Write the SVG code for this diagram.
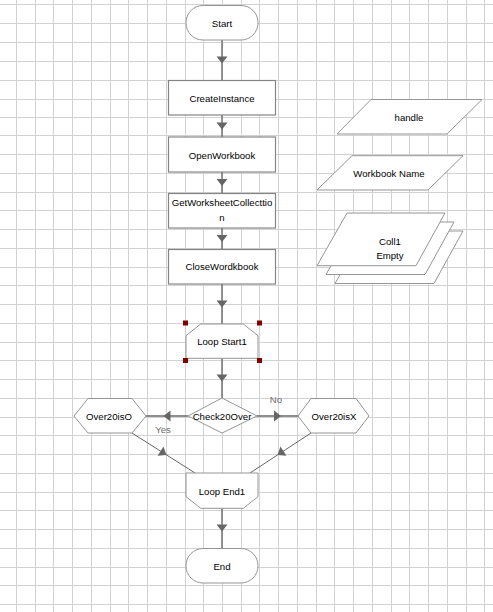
<svg xmlns="http://www.w3.org/2000/svg" width="493" height="612" viewBox="0 0 493 612">
<style>
.grid{stroke:#d2d2d2;stroke-width:1;fill:none}
.shape{fill:#fff;stroke:#959595;stroke-width:1}
.box{fill:#fff;stroke:#858585;stroke-width:1.2}
.lbl{font-family:"Liberation Sans",Arial,sans-serif;font-size:9.6px;fill:#000;text-anchor:middle}
.edge{font-family:"Liberation Sans",Arial,sans-serif;font-size:9.6px;fill:#6e6e6e;text-anchor:middle}
.conn{fill:none;stroke:#6a6a6a;stroke-width:1.4;marker-mid:url(#arr)}
.diag{fill:none;stroke:#555;stroke-width:0.9;marker-mid:url(#arr)}
.handle{fill:#800000}
</style>
<defs>
<marker id="arr" markerUnits="userSpaceOnUse" markerWidth="14" markerHeight="14" viewBox="-7 -7 14 14" refX="0" refY="0" orient="auto">
<path d="M-3.5,-5.5 L3.5,0 L-3.5,5.5 Z" fill="#666"/>
</marker>
</defs>
<rect x="0" y="0" width="493" height="612" fill="#fff"/>
<path class="grid" d="M16.5 0V612M35.5 0V612M53.5 0V612M72.5 0V612M91.5 0V612M110.5 0V612M128.5 0V612M147.5 0V612M166.5 0V612M185.5 0V612M203.5 0V612M222.5 0V612M241.5 0V612M259.5 0V612M278.5 0V612M297.5 0V612M316.5 0V612M334.5 0V612M353.5 0V612M372.5 0V612M391.5 0V612M409.5 0V612M428.5 0V612M447.5 0V612M466.5 0V612M484.5 0V612
M0 4.5H493M0 23.5H493M0 42.5H493M0 61.5H493M0 80.5H493M0 99.5H493M0 117.5H493M0 135.5H493M0 154.5H493M0 173.5H493M0 192.5H493M0 210.5H493M0 229.5H493M0 248.5H493M0 267.5H493M0 285.5H493M0 304.5H493M0 323.5H493M0 342.5H493M0 360.5H493M0 379.5H493M0 398.5H493M0 417.5H493M0 435.5H493M0 454.5H493M0 473.5H493M0 492.5H493M0 510.5H493M0 529.5H493M0 548.5H493M0 567.5H493M0 585.5H493M0 604.5H493"/>

<g id="connectors">
<path class="conn" d="M222,40 L222,60 L222,80"/>
<path class="conn" d="M222,115 L222,126 L222,137"/>
<path class="conn" d="M222,172 L222,182.5 L222,193"/>
<path class="conn" d="M222,228 L222,238.5 L222,249"/>
<path class="conn" d="M222,284 L222,304 L222,324"/>
<path class="conn" d="M222,358 L222,378 L222,398"/>
<path class="conn" d="M188,416 L167,416 L146,416"/>
<path class="conn" d="M257,416 L277.5,416 L298,416"/>
<path class="diag" d="M132,433 L163.5,453 L195,473"/>
<path class="diag" d="M311,433 L280.5,453 L250,473"/>
<path class="conn" d="M222,508 L222,528 L222,548"/>
<text class="edge" x="163" y="433">Yes</text>
<text class="edge" x="276" y="403">No</text>
</g>

<g id="start">
<rect class="shape" x="186" y="5.5" width="72" height="34.5" rx="17" ry="17"/>
<text class="lbl" x="222" y="27">Start</text>
</g>
<g id="createinstance">
<rect class="box" x="168.5" y="80.5" width="107" height="34.5"/>
<text class="lbl" x="222" y="102">CreateInstance</text>
</g>
<g id="openworkbook">
<rect class="box" x="168.5" y="137" width="107" height="35"/>
<text class="lbl" x="222" y="158.5">OpenWorkbook</text>
</g>
<g id="getworksheetcollection">
<rect class="box" x="168.5" y="193.5" width="107" height="34.5"/>
<text class="lbl" x="222" y="206">GetWorksheetCollecttio</text>
<text class="lbl" x="222" y="220.5">n</text>
</g>
<g id="closeworkbook">
<rect class="box" x="168.5" y="249.5" width="107" height="34.5"/>
<text class="lbl" x="222" y="270">CloseWordkbook</text>
</g>
<g id="loopstart">
<polygon class="shape" points="200.7,324 243.3,324 258,335.7 258,358.3 186,358.3 186,335.7"/>
<text class="lbl" x="222" y="345">Loop Start1</text>
<rect class="handle" x="183" y="320.5" width="5" height="5"/>
<rect class="handle" x="257" y="320.5" width="5" height="5"/>
<rect class="handle" x="183" y="358" width="5" height="5"/>
<rect class="handle" x="257" y="358" width="5" height="5"/>
</g>
<g id="check20over">
<polygon class="shape" points="222,398 257,416 222,433 188,416"/>
<text class="lbl" x="222" y="420">Check20Over</text>
</g>
<g id="over20iso">
<polygon class="shape" points="74,416 88,398.5 132,398.5 146,416 132,433 88,433"/>
<text class="lbl" x="109" y="420">Over20isO</text>
</g>
<g id="over20isx">
<polygon class="shape" points="298,416 311,398.5 356,398.5 369,416 356,433 311,433"/>
<text class="lbl" x="334" y="420">Over20isX</text>
</g>
<g id="loopend">
<polygon class="shape" points="186,473 258,473 258,496.7 243.3,508.3 200.7,508.3 186,496.7"/>
<text class="lbl" x="222" y="495">Loop End1</text>
</g>
<g id="end">
<rect class="shape" x="186" y="548.5" width="72" height="34.5" rx="17" ry="17"/>
<text class="lbl" x="222" y="570">End</text>
</g>

<g id="handle">
<polygon class="shape" points="371,99.5 482,99.5 447,134 337,134"/>
<text class="lbl" x="409" y="120.5">handle</text>
</g>
<g id="workbookname">
<polygon class="shape" points="352,155.7 463,155.7 428,190 317,190"/>
<text class="lbl" x="389" y="177">Workbook Name</text>
</g>
<g id="coll1">
<polygon class="shape" points="365,231 463,231 434,283.5 335,283.5"/>
<polygon class="shape" points="356,222 454,222 425,274.5 326,274.5"/>
<polygon class="shape" points="347,213 445,213 416,265.7 317,265.7"/>
<text class="lbl" x="390" y="245">Coll1</text>
<text class="lbl" x="390" y="258.5">Empty</text>
</g>
</svg>
